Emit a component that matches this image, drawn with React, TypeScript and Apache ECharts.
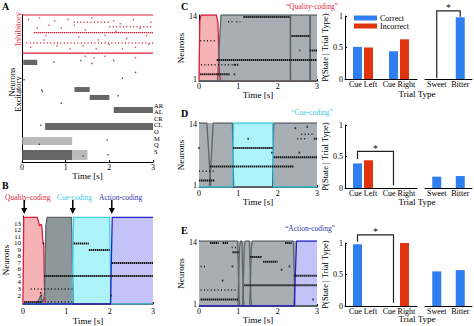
import React, { useEffect, useRef } from "react";
import * as echarts from "echarts";

const FONT = "'Liberation Serif', 'DejaVu Serif', serif";
const RED = "#dc1e3c";
const RED_FILL = "#f6b3b5";
const CYAN = "#3ccbe3";
const CYAN_FILL = "#aef2fa";
const BLUE = "#2323c4";
const BLUE_FILL = "#c3c3f7";
const GRAY = "#5d656a";
const GRAY_FILL = "#a7afb4";
const GRAY_FILL_B = "#8e979c";
const BAR_BLUE = "#2f7ff0";
const BAR_RED = "#e2330f";

// ---------- data ----------
const timeTicks = [0, 1, 2, 3];
const neuronTicksB = [1, 2, 3, 4, 5, 6, 7, 8, 9, 10, 11, 12, 13, 14];
const neuronTicksCDE = [1, 14];
const groupLabels = ["AR", "AL", "CR", "CL", "O", "M", "Q", "S"];
const stateNames = ["Quality-coding", "Cue-coding", "Action-coding"];
const arrowTimes = [0.03, 1.15, 2.05];

// Panel A: [t0, t1, neuron index, kind] kind: 2 solid, 1 dense, 0 sparse
const inhibRows = [
  [0, 3, 0, 2], [0, 3, 26, 2], [0.27, 3, 12, 1], [1.18, 2.0, 5, 0], [2.0, 3, 8, 0], [0.1, 3, 19, 0],
];
const inhibDots = [
  [0.15, 3], [0.4, 2], [0.62, 7], [0.75, 4], [0.9, 9], [1.05, 3], [1.3, 15], [1.45, 10], [1.6, 2],
  [1.75, 17], [1.9, 14], [2.1, 4], [2.25, 6], [2.4, 16], [2.55, 3], [2.7, 9], [2.85, 14], [2.95, 5],
  [0.2, 22], [0.5, 17], [0.8, 21], [1.1, 23], [1.4, 21], [1.7, 23], [2.0, 20], [2.3, 23], [2.6, 22],
  [2.9, 20], [0.35, 9], [0.55, 14], [1.2, 7], [2.15, 11], [1.45, 28], [1.65, 29], [1.9, 28], [2.6, 29],
];
// [t0, t1, idx0, idx1, kind]
const excBlocks = [
  [0.03, 0.35, 30.5, 34, 1], [1.2, 1.55, 49, 52.4, 1], [1.55, 2.0, 54.4, 57.8, 1],
  [2.1, 3, 62.6, 66.7, 1], [0.53, 3, 73.5, 78.2, 1], [0, 1.15, 83, 88.4, 0],
  [0, 1.15, 91.8, 98.6, 1], [1.15, 1.5, 91.8, 98.6, 0],
];
const excDots = [
  [0.05, 44], [0.45, 51], [0.47, 52], [0.73, 32], [1.35, 31], [1.6, 33], [2.1, 31], [0.9, 60],
  [2.3, 43], [2.6, 39], [1.95, 85], [1.97, 95], [1.4, 96], [0.43, 75], [0.4, 88], [2.2, 55],
];

// Panel B state probabilities [t, p]
const qualB = [[0, 0], [0.02, 1], [0.33, 1], [0.36, 0.95], [0.38, 0.9], [0.42, 0.92], [0.44, 0.88], [0.46, 0.72], [0.48, 0.7], [0.5, 0.1], [0.52, 0], [3, 0]];
const grayB = [[0, 0], [0.3, 0], [0.37, 0.05], [0.41, 0.1], [0.45, 0.02], [0.5, 0.1], [0.53, 0.9], [0.56, 1], [1.12, 1], [1.16, 0], [3, 0]];
const cyanB = [[0, 0], [1.13, 0], [1.17, 1], [2.0, 1], [2.03, 0], [3, 0]];
const blueB = [[0, 0], [2.02, 0], [2.06, 1], [3, 1]];
const spikesB = [[1.17, 1.52, 10, 1], [1.52, 2.0, 9, 1], [2.05, 3.0, 7, 1], [0.49, 3.0, 5, 1], [0.18, 1.14, 3, 0], [0.03, 0.45, 1, 1], [0.57, 1.14, 1, 0]];
const dotsB = [[0.43, 2], [0.41, 2.4], [2.03, 2], [0.47, 10]];

// Panel C
const qualC = [[0, 0], [0.02, 0.9], [0.05, 1], [0.44, 1], [0.48, 0.9], [0.52, 0.1], [0.55, 0], [3, 0]];
const grayC1 = [[0, 0], [0.47, 0], [0.52, 0.6], [0.56, 1], [2.32, 1], [2.33, 0], [3, 0]];
const grayC2 = [[0, 0], [2.32, 0], [2.33, 1], [2.82, 1], [2.83, 0], [3, 0]];
const grayC3 = [[0, 0], [2.82, 0], [2.83, 1], [3, 1]];
const spikesC = [[1.13, 2.31, 14, 1], [0.74, 0.85, 13, 0], [0.95, 1.05, 13, 0], [0.03, 0.45, 9, 0], [2.35, 2.82, 10, 1], [2.55, 2.6, 7, 0], [2.82, 3.0, 7, 1], [0.45, 3.0, 5, 1], [0.05, 0.95, 4, 0], [0.03, 0.78, 2, 1]];
const dotsC = [[0.9, 2], [0.98, 4], [0.9, 4]];

// Panel D
const grayD1 = [[0, 1], [0.2, 1], [0.27, 0.3], [0.3, 0], [3, 0]];
const grayD2 = [[0, 0], [0.26, 0], [0.3, 0.3], [0.36, 1], [0.85, 1], [0.88, 0], [3, 0]];
const cyanD = [[0, 0], [0.85, 0], [0.88, 1], [1.87, 1], [1.9, 0], [3, 0]];
const grayD3 = [[0, 0], [1.87, 0], [1.9, 1], [3, 1]];
const spikesD = [[0.87, 1.88, 9, 1], [1.9, 3.0, 7, 1], [0.28, 2.4, 5, 1], [0.0, 0.4, 4, 0], [0.0, 0.4, 2, 1], [2.6, 2.9, 12, 0], [2.5, 2.72, 11, 0], [2.92, 3.0, 11, 1]];
const dotsD = [[0.0, 9], [1.25, 11], [2.45, 13.3], [2.75, 13.6], [2.55, 8], [1.85, 8]];

// Panel E
const grayE1 = [[0, 1], [0.98, 1], [1.02, 0.1], [1.04, 0], [3, 0]];
const grayE2 = [[0, 0], [0.99, 0], [1.03, 0.9], [1.06, 1], [1.09, 1], [1.13, 0.1], [1.15, 0], [3, 0]];
const grayE3 = [[0, 0], [1.11, 0], [1.15, 0.9], [1.18, 1], [1.28, 1], [1.32, 0.1], [1.34, 0], [3, 0]];
const grayE4 = [[0, 0], [1.29, 0], [1.33, 0.9], [1.36, 1], [2.4, 1], [2.44, 0], [3, 0]];
const blueE = [[0, 0], [2.42, 0], [2.48, 1], [3, 1]];
const spikesE = [[0.28, 0.5, 14, 1], [0.6, 0.74, 14, 1], [2.19, 2.36, 14, 1], [0.83, 1.0, 13, 0], [0.85, 1.02, 12, 1], [1.3, 1.6, 11, 1], [1.63, 2.0, 10, 1], [0.04, 0.2, 9, 0], [2.42, 3.0, 7, 1], [1.15, 3.0, 5, 1], [0.04, 1.0, 4, 0], [0.04, 1.0, 2, 1]];
const dotsE = [[0.85, 9], [0.6, 6], [2.1, 8.3], [2.3, 9], [2.9, 2]];

// Bars
const cueCats = ["Cue Left", "Cue Right"];
const tasteCats = ["Sweet", "Bitter"];
const correctC = [0.51, 0.44];
const incorrectC = [0.5, 0.63];
const tasteC = [0, 0.98];
const correctD = [0.39, 0];
const incorrectD = [0.44, 0];
const tasteD = [0.18, 0.19];
const correctE = [0.98, 0];
const incorrectE = [0, 1.0];
const tasteE = [0.55, 0.57];
// [cat0, cat1, top, bottom0, bottom1]
const bracketC = [[0, 1, 1.08, 0.01, 0.99]];
const bracketD = [[0, 1, 0.58, 0.46, 0.04]];
const bracketE = [[0, 1, 1.13, 1.02, 0.05]];

// ---------- helpers ----------
const timeAxis = (gridIndex: number, margin: number, nameGap: number) => ({
  type: "value", gridIndex, min: 0, max: 3, interval: 1,
  axisLine: { onZero: false, lineStyle: { color: "#000", width: 1 } },
  axisTick: { show: true, inside: true, length: 2, lineStyle: { color: "#000" }, customValues: timeTicks },
  axisLabel: { fontSize: 8, color: "#000", margin, fontFamily: FONT, customValues: timeTicks },
  splitLine: { show: false },
  name: "Time [s]", nameLocation: "middle", nameGap,
  nameTextStyle: { fontSize: 9, color: "#000", fontFamily: FONT },
});
const neuronAxis = (gridIndex: number, min: number, max: number, ticks: number[], nameGap: number, fs: number) => ({
  type: "value", gridIndex, min, max,
  axisLine: { show: true, onZero: false, lineStyle: { color: "#000" } },
  axisTick: { show: true, inside: true, length: 2, lineStyle: { color: "#000" }, customValues: ticks },
  axisLabel: { fontSize: fs, color: "#000", margin: 2, fontFamily: FONT, customValues: ticks },
  splitLine: { show: false },
  name: "Neurons", nameLocation: "middle", nameGap,
  nameTextStyle: { fontSize: 9, color: "#000", fontFamily: FONT },
});
const probAxis = (gridIndex: number, max: number) => ({ type: "value", gridIndex, min: 0, max, show: false });
const catAxis = (gridIndex: number, data: string[], margin: number) => ({
  type: "category", gridIndex, data,
  axisLine: { onZero: false, lineStyle: { color: "#000" } },
  axisTick: { show: false },
  axisLabel: { fontSize: 8, color: "#000", margin, interval: 0, fontFamily: FONT },
});
const valAxis = (gridIndex: number) => ({
  type: "value", gridIndex, min: 0, max: 1, interval: 0.5,
  axisLine: { show: true, onZero: false, lineStyle: { color: "#000" } },
  axisTick: { show: true, inside: true, length: 2, lineStyle: { color: "#000" } },
  axisLabel: { fontSize: 8, color: "#000", margin: 2, fontFamily: FONT },
  splitLine: { show: false },
  name: "P(State | Trial Type)", nameLocation: "middle", nameGap: 10,
  nameTextStyle: { fontSize: 8.5, color: "#000", fontFamily: FONT },
});

const area = (data: number[][], xi: number, yi: number, fill: string, stroke: string) => ({
  type: "line", xAxisIndex: xi, yAxisIndex: yi, data, showSymbol: false, symbol: "none",
  lineStyle: { color: stroke, width: 1.3 }, areaStyle: { color: fill, opacity: 1 },
  z: 1, silent: true, clip: true,
});

const segRender = (color: string, denseW: number) => (params: any, api: any) => {
  const a = api.coord([api.value(0), api.value(2)]);
  const b = api.coord([api.value(1), api.value(2)]);
  const k = api.value(3);
  const style: any = { stroke: color, fill: null, lineWidth: k === 1 ? denseW : k === 2 ? 1.2 : 1.5 };
  if (k === 1) style.lineDash = [1.4, 0.6];
  if (k === 0) style.lineDash = [1, 2.4];
  return { type: "line", shape: { x1: a[0], y1: a[1], x2: b[0], y2: b[1] }, style };
};
const spikes = (data: number[][], xi: number, yi: number, color = "#111", denseW = 2) => ({
  type: "custom", xAxisIndex: xi, yAxisIndex: yi, data, renderItem: segRender(color, denseW),
  encode: { x: [0, 1], y: 2 }, z: 3, silent: true,
});
const dots = (data: number[][], xi: number, yi: number, color = "#111", size = [1.6, 2]) => ({
  type: "scatter", xAxisIndex: xi, yAxisIndex: yi, data, symbol: "rect", symbolSize: size,
  itemStyle: { color }, z: 3, silent: true,
});
const blockRender = (params: any, api: any) => {
  const a = api.coord([api.value(0), api.value(2)]);
  const b = api.coord([api.value(1), api.value(3)]);
  const dense = api.value(4) === 1;
  return {
    type: "rect",
    shape: { x: a[0], y: Math.min(a[1], b[1]), width: b[0] - a[0], height: Math.abs(b[1] - a[1]) },
    style: { fill: dense ? "#555" : "#a3a3a3", opacity: dense ? 0.9 : 0.75 },
  };
};
const bar = (name: string, data: number[], xi: number, yi: number, color: string) => ({
  type: "bar", name, data, xAxisIndex: xi, yAxisIndex: yi, barWidth: 9, barGap: "22%",
  itemStyle: { color }, silent: true,
});
const bracketRender = (offset: number) => (params: any, api: any) => {
  const t0 = api.coord([api.value(0), api.value(2)]);
  const t1 = api.coord([api.value(1), api.value(2)]);
  const b0 = api.coord([api.value(0), api.value(3)]);
  const b1 = api.coord([api.value(1), api.value(4)]);
  return {
    type: "group",
    children: [
      {
        type: "polyline",
        shape: { points: [[b0[0] + offset, b0[1]], [t0[0] + offset, t0[1]], [t1[0] + offset, t1[1]], [b1[0] + offset, b1[1]]] },
        style: { stroke: "#222", fill: null, lineWidth: 1.2 },
      },
      {
        type: "text", x: (t0[0] + t1[0]) / 2 + offset, y: t0[1] - 3,
        style: { text: "*", fontSize: 10, fill: "#111", align: "center", verticalAlign: "middle", fontFamily: FONT },
      },
    ],
  };
};
const bracket = (data: number[][], xi: number, yi: number, offset: number) => ({
  type: "custom", xAxisIndex: xi, yAxisIndex: yi, data, renderItem: bracketRender(offset),
  encode: { x: [0, 1], y: [2, 3, 4] }, z: 4, silent: true, clip: false,
});

const txt = (text: string, x: number, y: number, fs: number, fill = "#000", extra: any = {}) => ({
  type: "text", x, y, silent: true,
  style: { text, fontSize: fs, fill, fontFamily: FONT, align: "center", verticalAlign: "middle", ...(extra.style || {}) },
  ...(extra.el || {}),
});

export default function App() {
  const ref = useRef<HTMLDivElement>(null);
  useEffect(() => {
    if (!ref.current) return;
    const chart = echarts.init(ref.current, null, { renderer: "svg" });
    const grayBg = { show: true, backgroundColor: GRAY_FILL, borderWidth: 0 };
    const option: any = {
      animation: false,
      textStyle: { fontFamily: FONT },
      grid: [
        { left: 22, top: 15, width: 131, height: 147 },
        { left: 22, top: 216, width: 131, height: 89 },
        { left: 199, top: 15, width: 118, height: 66 },
        { left: 199, top: 123, width: 118, height: 64, ...grayBg },
        { left: 199, top: 241, width: 118, height: 65, ...grayBg },
        { left: 345, top: 16, width: 72, height: 63 },
        { left: 425, top: 16, width: 47, height: 63 },
        { left: 345, top: 125, width: 72, height: 63 },
        { left: 425, top: 125, width: 47, height: 63 },
        { left: 345, top: 243, width: 72, height: 63 },
        { left: 425, top: 243, width: 47, height: 63 },
      ],
      xAxis: [
        timeAxis(0, 1, 7),
        timeAxis(1, 3, 12),
        timeAxis(2, 1, 8),
        timeAxis(3, 2, 10),
        timeAxis(4, 1, 8),
        catAxis(5, cueCats, 1.5),
        catAxis(6, tasteCats, 1.5),
        catAxis(7, cueCats, 1),
        catAxis(8, tasteCats, 1),
        catAxis(9, cueCats, 1),
        catAxis(10, tasteCats, 1),
      ],
      yAxis: [
        { type: "value", gridIndex: 0, min: 0, max: 100, inverse: true, axisLine: { show: true, onZero: false, lineStyle: { color: "#000" } }, axisTick: { show: false }, axisLabel: { show: false }, splitLine: { show: false } },
        neuronAxis(1, 0.7, 14.2, neuronTicksB, 9, 7),
        probAxis(1, 1.015),
        neuronAxis(2, 0.6, 14.4, neuronTicksCDE, 5, 8),
        probAxis(2, 1),
        neuronAxis(3, 0.6, 14.4, neuronTicksCDE, 6, 8),
        probAxis(3, 1),
        neuronAxis(4, 0.6, 14.4, neuronTicksCDE, 6, 8),
        probAxis(4, 1),
        valAxis(5),
        { type: "value", gridIndex: 6, min: 0, max: 1, show: false },
        valAxis(7),
        { type: "value", gridIndex: 8, min: 0, max: 1, show: false },
        valAxis(9),
        { type: "value", gridIndex: 10, min: 0, max: 1, show: false },
      ],
      legend: {
        data: ["Correct", "Incorrect"], left: 354, top: 14, orient: "vertical", itemWidth: 23, itemHeight: 5,
        itemGap: 0, icon: "rect", padding: 0, selectedMode: false,
        textStyle: { fontSize: 8, color: "#000", fontFamily: FONT, padding: [0, 0, 0, -2] },
      },
      series: [
        // A
        { type: "custom", xAxisIndex: 0, yAxisIndex: 0, data: excBlocks, renderItem: blockRender, encode: { x: [0, 1], y: [2, 3] }, z: 2, silent: true },
        spikes(inhibRows, 0, 0, RED, 1.4),
        dots(inhibDots, 0, 0, RED, [1.3, 1.5]),
        dots(excDots, 0, 0, "#222", [1.3, 1.5]),
        // B
        area(qualB, 1, 2, RED_FILL, RED),
        area(grayB, 1, 2, GRAY_FILL_B, GRAY),
        area(cyanB, 1, 2, CYAN_FILL, CYAN),
        area(blueB, 1, 2, BLUE_FILL, BLUE),
        spikes(spikesB, 1, 1),
        dots(dotsB, 1, 1),
        // C
        area(qualC, 2, 4, RED_FILL, RED),
        area(grayC1, 2, 4, GRAY_FILL, GRAY),
        area(grayC2, 2, 4, GRAY_FILL, GRAY),
        area(grayC3, 2, 4, GRAY_FILL, GRAY),
        spikes(spikesC, 2, 3),
        dots(dotsC, 2, 3),
        // D
        area(grayD1, 3, 6, GRAY_FILL, GRAY),
        area(grayD2, 3, 6, GRAY_FILL, GRAY),
        area(grayD3, 3, 6, GRAY_FILL, GRAY),
        area(cyanD, 3, 6, CYAN_FILL, CYAN),
        spikes(spikesD, 3, 5),
        dots(dotsD, 3, 5),
        // E
        area(grayE1, 4, 8, GRAY_FILL, GRAY),
        area(grayE2, 4, 8, GRAY_FILL, GRAY),
        area(grayE3, 4, 8, GRAY_FILL, GRAY),
        area(grayE4, 4, 8, GRAY_FILL, GRAY),
        area(blueE, 4, 8, BLUE_FILL, BLUE),
        spikes(spikesE, 4, 7),
        dots(dotsE, 4, 7),
        // bars
        bar("Correct", correctC, 5, 9, BAR_BLUE),
        bar("Incorrect", incorrectC, 5, 9, BAR_RED),
        bar("Correct", tasteC, 6, 10, BAR_BLUE),
        bar("Correct", correctD, 7, 11, BAR_BLUE),
        bar("Incorrect", incorrectD, 7, 11, BAR_RED),
        bar("Correct", tasteD, 8, 12, BAR_BLUE),
        bar("Correct", correctE, 9, 13, BAR_BLUE),
        bar("Incorrect", incorrectE, 9, 13, BAR_RED),
        bar("Correct", tasteE, 10, 14, BAR_BLUE),
        bracket(bracketC, 6, 10, 0),
        bracket(bracketD, 7, 11, -5.5),
        bracket(bracketE, 9, 13, -5.5),
      ],
    };
    chart.setOption(option);

    const graphic: any[] = [];
    const bold = { style: { fontWeight: "bold", align: "left", verticalAlign: "top" } };
    graphic.push(txt("A", 2, 1, 10, "#000", bold));
    graphic.push(txt("B", 2, 180, 10, "#000", bold));
    graphic.push(txt("C", 181, 1, 10, "#000", bold));
    graphic.push(txt("D", 181, 108, 10, "#000", bold));
    graphic.push(txt("E", 181, 225, 10, "#000", bold));
    graphic.push(txt("\u201C" + stateNames[0] + "\u201D", 312, 6, 7.5, RED));
    graphic.push(txt("\u201C" + stateNames[1] + "\u201D", 312, 112, 7.5, CYAN));
    graphic.push(txt("\u201C" + stateNames[2] + "\u201D", 310, 228, 7.5, "#3434a8"));
    graphic.push(txt("Trial Type", 417, 93.5, 9));
    graphic.push(txt("Trial Type", 417, 201.5, 9));
    graphic.push(txt("Trial Type", 417, 319, 9));
    // A side labels
    const rot = (s: string, x: number, y: number, fill: string) =>
      txt(s, x, y, 8.5, fill, { el: { rotation: Math.PI / 2 } });
    graphic.push(rot("Neurons", 11.5, 82, "#000"));
    graphic.push(rot("Excitatory", 17.5, 94, "#000"));
    graphic.push(rot("Inhibitory", 18, 29, RED));
    groupLabels.forEach((g, i) => {
      graphic.push(txt(g, 154, 105 + i * 6.6, 6.5, "#000", { style: { align: "left" } }));
    });
    // B legend texts
    const legendColors = [RED, CYAN, "#3434a8"];
    const legendX = [5, 57, 99];
    stateNames.forEach((s, i) => {
      graphic.push(txt(s, legendX[i], 197, 7.5, legendColors[i], { style: { align: "left" } }));
    });
    arrowTimes.forEach((t) => {
      const p = chart.convertToPixel({ xAxisIndex: 1, yAxisIndex: 1 } as any, [t, 14]) as number[];
      const x = p[0];
      graphic.push({ type: "line", silent: true, shape: { x1: x, y1: 200, x2: x, y2: 209 }, style: { stroke: "#000", lineWidth: 1.5 } });
      graphic.push({ type: "polygon", silent: true, shape: { points: [[x - 3, 208], [x + 3, 208], [x, 214]] }, style: { fill: "#000" } });
    });
    chart.setOption({ graphic });

    return () => chart.dispose();
  }, []);
  return <div ref={ref} style={{ position: "absolute", left: 0, top: 0, width: 474, height: 326, background: "#fff" }} />;
}
